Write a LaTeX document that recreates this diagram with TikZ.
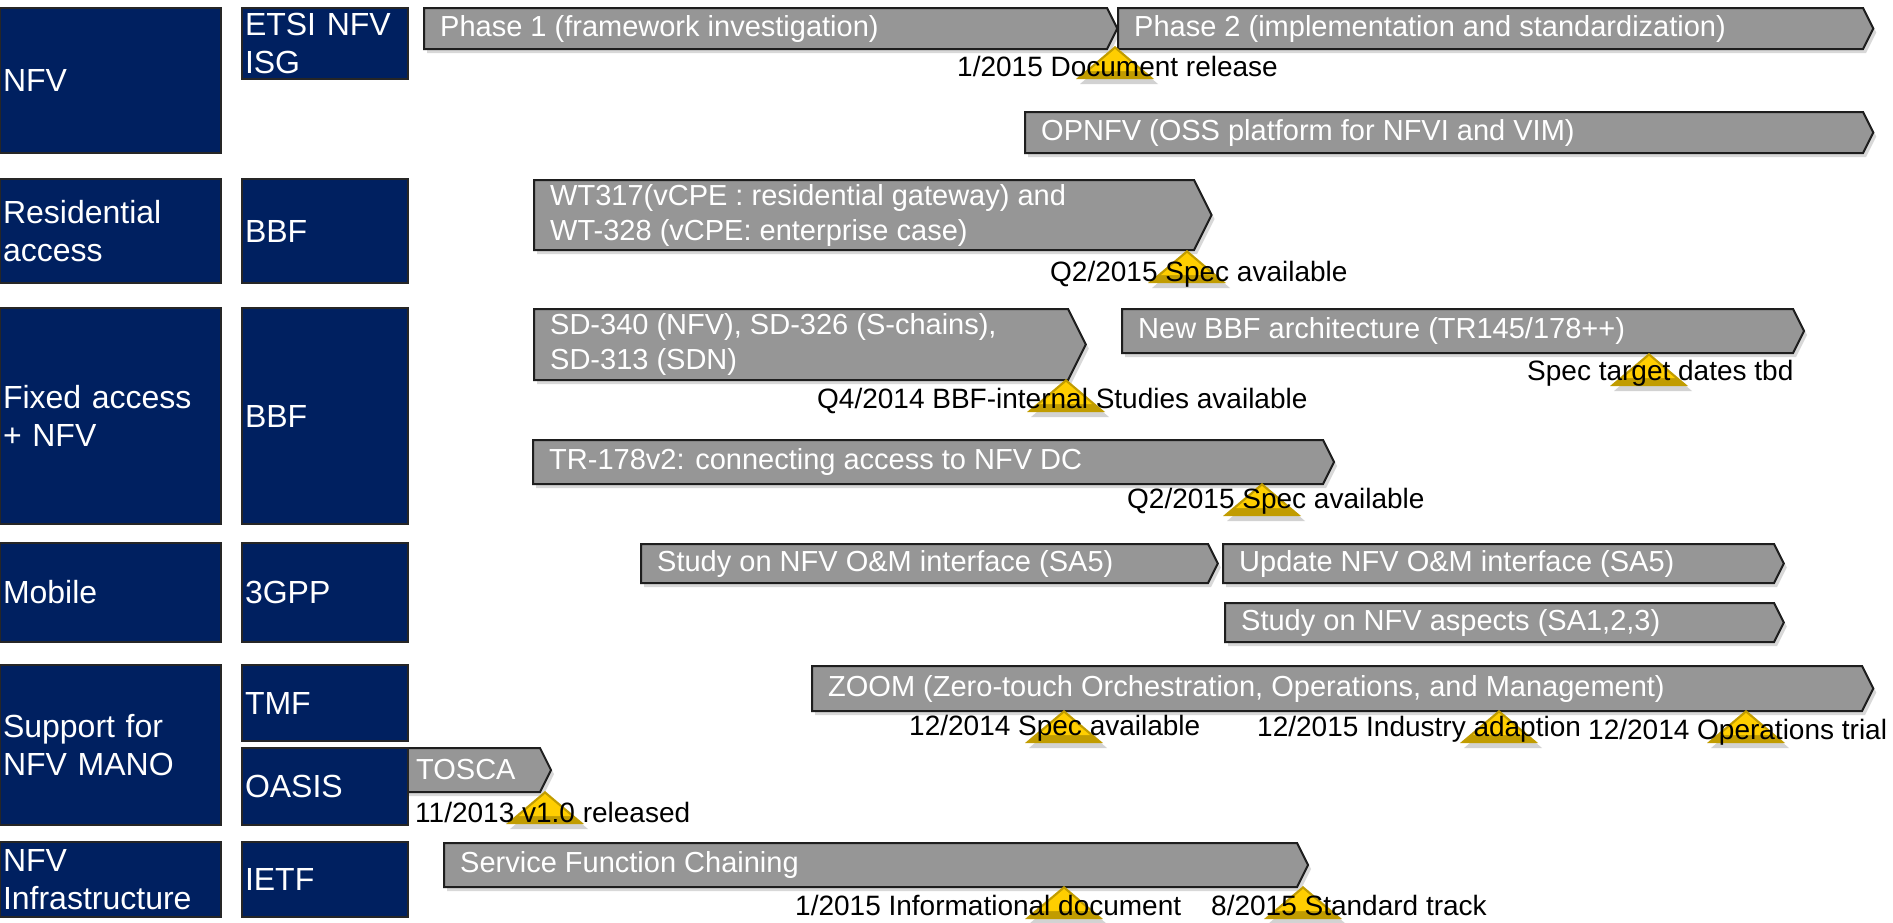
\documentclass[tikz,border=0pt]{standalone}
\usepackage{fontspec}
\setmainfont{Liberation Sans}
\usetikzlibrary{shadows}
\definecolor{navy}{RGB}{0,32,96}
\definecolor{bargray}{RGB}{150,150,150}
\definecolor{barline}{RGB}{30,30,30}
\definecolor{msgold}{RGB}{193,156,0}
\definecolor{msyellow}{RGB}{255,206,0}
\tikzset{
  catbox/.style={draw=black!85, line width=2pt, fill=navy, text=white, inner xsep=3pt, inner ysep=0pt,
    outer sep=0pt, align=left, anchor=north west, font=\fontsize{32}{38}\selectfont},
  col1/.style={catbox, minimum width=221pt, text width=215pt},
  col2/.style={catbox, minimum width=166pt, text width=160pt},
  tlbar/.style={fill=bargray, draw=barline, line width=2pt, line join=miter,
    drop shadow={opacity=0.3, shadow xshift=3pt, shadow yshift=-4pt}},
  bartext/.style={text=white, anchor=west, align=left, inner sep=0pt, font=\fontsize{29}{35}\selectfont},
  msouter/.style={fill=msgold, drop shadow={opacity=0.35, shadow xshift=4pt, shadow yshift=-5pt}},
  msinner/.style={fill=msyellow},
  mstext/.style={anchor=base west, inner sep=0pt, text=black, font=\fontsize{28}{34}\selectfont},
}
\newcommand\tlbarcmd[6]{%
  \path[tlbar] (#2,#4) -- (#3,#4) -- ({#3+(#5-#4)/4},{(#4+#5)/2}) -- (#3,#5) -- (#2,#5) -- cycle;
  \node[bartext] (#1) at ({#2+16},{(#4+#5)/2}) {#6};}
\newcommand\mstone[6]{%
  \path[msouter] (#2,#3) -- ({#2+39},{#3+33}) -- ({#2-39},{#3+33}) -- cycle;
  \path[msinner] (#2,{#3+3}) -- ({#2+26},{#3+25}) -- ({#2-26},{#3+25}) -- cycle;
  \node[mstext] (#1) at (#4,#5) {#6};}
\begin{document}
\begin{tikzpicture}[x=1pt,y=-1pt]
\useasboundingbox[fill=white] (0,0) rectangle (1893,922);
% bars
\tlbarcmd{p1}{424}{1107}{8}{49}{Phase 1 (framework investigation)}
\tlbarcmd{p2}{1118}{1863}{8}{49}{Phase 2 (implementation and standardization)}
\tlbarcmd{opnfv}{1025}{1863}{112}{153}{OPNFV (OSS platform for NFVI and VIM)}
\tlbarcmd{wt}{534}{1194}{180}{250}{WT317(vCPE : residential gateway) and\\WT-328 (vCPE: enterprise case)}
\tlbarcmd{sd}{534}{1068}{309}{380}{SD-340 (NFV), SD-326 (S-chains),\\SD-313 (SDN)}
\tlbarcmd{newbbf}{1122}{1793}{309}{353}{New BBF architecture (TR145/178++)}
\tlbarcmd{tr}{533}{1323}{440}{484}{TR-178v2: connecting access to NFV DC}
\tlbarcmd{om}{641}{1208}{544}{583}{Study on NFV O\&M interface (SA5)}
\tlbarcmd{upd}{1223}{1774}{544}{583}{Update NFV O\&M interface (SA5)}
\tlbarcmd{asp}{1225}{1774}{603}{642}{Study on NFV aspects (SA1,2,3)}
\tlbarcmd{zoomb}{812}{1862}{666}{711}{ZOOM (Zero-touch Orchestration, Operations, and Management)}
\tlbarcmd{tosca}{400}{540}{748}{792}{TOSCA}
\tlbarcmd{sfc}{444}{1297}{843}{887}{Service Function Chaining}
% category boxes
\node[col1, minimum height=145pt] (nfv) at (0,8) {NFV};
\node[col1, minimum height=104pt] (res) at (0,179) {Residential\\access};
\node[col1, minimum height=216pt] (fix) at (0,308) {Fixed access\\+ NFV};
\node[col1, minimum height=99pt] (mob) at (0,543) {Mobile};
\node[col1, minimum height=160pt] (mano) at (0,665) {Support for\\NFV MANO};
\node[col1, minimum height=75pt] (infra) at (0,842) {NFV\\Infrastructure};
\node[col2, minimum height=71pt] (etsi) at (242,8) {ETSI NFV\\ISG};
\node[col2, minimum height=104pt] (bbf1) at (242,179) {BBF};
\node[col2, minimum height=216pt] (bbf2) at (242,308) {BBF};
\node[col2, minimum height=99pt] (gpp) at (242,543) {3GPP};
\node[col2, minimum height=76pt] (tmf) at (242,665) {TMF};
\node[col2, minimum height=77pt] (oasis) at (242,748) {OASIS};
\node[col2, minimum height=75pt] (ietf) at (242,842) {IETF};
% milestones
\mstone{m1}{1115}{46}{957}{76}{1/2015 Document release}
\mstone{m2}{1187}{250}{1050}{281}{Q2/2015 Spec available}
\mstone{m3}{1066}{379}{817}{408}{Q4/2014 BBF-internal Studies available}
\mstone{m4}{1649}{353}{1527}{380}{Spec target dates tbd}
\mstone{m5}{1262}{483}{1127}{508}{Q2/2015 Spec available}
\mstone{m6}{545}{791}{415}{822}{11/2013 v1.0 released}
\mstone{m7}{1064}{710}{909}{735}{12/2014 Spec available}
\mstone{m8}{1499}{710}{1257}{736}{12/2015 Industry adaption}
\mstone{m9}{1746}{710}{1588}{739}{12/2014 Operations trial}
\mstone{m10}{1064}{886}{795}{915}{1/2015 Informational document}
\mstone{m11}{1303}{886}{1211}{915}{8/2015 Standard track}
\end{tikzpicture}
\end{document}
